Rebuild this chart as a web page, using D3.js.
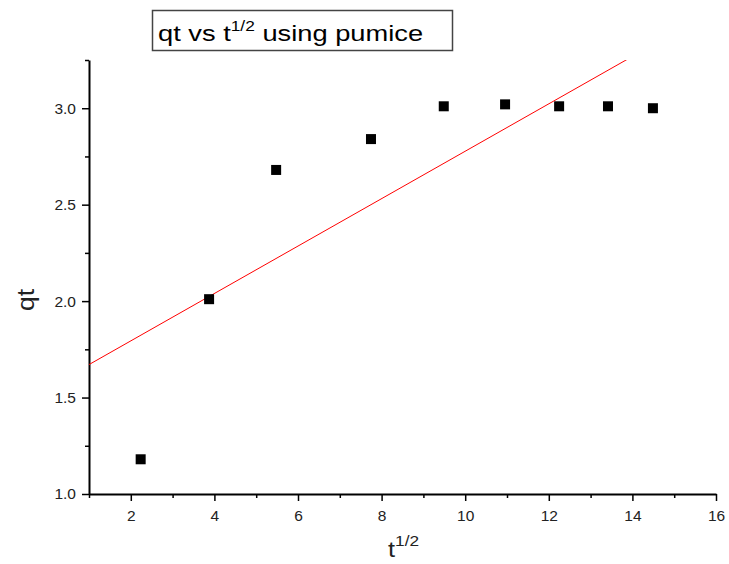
<!DOCTYPE html>
<html lang="en">
<head>
    <meta charset="UTF-8">
    <title>qt vs t^1/2 using pumice</title>
    <script src="https://d3js.org/d3.v7.min.js"></script>
    <style>
        body {
            margin: 0;
            background: #ffffff;
            font-family: 'Liberation Sans', Arial, sans-serif;
        }
        .tick text {
            font-family: 'Liberation Sans', Arial, sans-serif;
            font-size: 15.5px;
            fill: #222;
        }
    </style>
</head>
<body>
    <div id="chart"></div>
    <script>
        // data
        const tHalf = [2.236, 3.873, 5.477, 7.746, 9.487, 10.954, 12.247, 13.416, 14.491];
        const qt = [1.18, 2.01, 2.68, 2.84, 3.01, 3.02, 3.01, 3.01, 3.00];
        // linear fit (red line)
        const fitIntercept = 1.548;
        const fitSlope = 0.1229;
        const xTicks = [2, 4, 6, 8, 10, 12, 14, 16];
        const yTicks = [1.0, 1.5, 2.0, 2.5, 3.0];
        const xMinor = [1, 3, 5, 7, 9, 11, 13, 15];
        const yMinor = [1.25, 1.75, 2.25, 2.75, 3.25];

        const width = 729;
        const height = 564;
        const margin = {top: 60, right: 13, bottom: 70, left: 89};

        const svg = d3.select("#chart")
            .append("svg")
            .attr("width", width)
            .attr("height", height);

        const x = d3.scaleLinear()
            .domain([1, 16])
            .range([margin.left, width - margin.right]);

        const y = d3.scaleLinear()
            .domain([1.0, 3.25])
            .range([height - margin.bottom, margin.top]);

        svg.append("clipPath")
            .attr("id", "plot-clip")
            .append("rect")
            .attr("x", margin.left)
            .attr("y", margin.top)
            .attr("width", width - margin.left - margin.right)
            .attr("height", height - margin.top - margin.bottom);

        // minor ticks
        svg.append("g")
            .attr("transform", `translate(0,${height - margin.bottom})`)
            .call(d3.axisBottom(x).tickValues(xMinor).tickSize(4).tickFormat(""))
            .call(g => g.select(".domain").remove())
            .selectAll("line").attr("stroke", "#000").attr("stroke-width", 1.5);

        svg.append("g")
            .attr("transform", `translate(${margin.left},0)`)
            .call(d3.axisLeft(y).tickValues(yMinor).tickSize(4).tickFormat(""))
            .call(g => g.select(".domain").remove())
            .selectAll("line").attr("stroke", "#000").attr("stroke-width", 1.5);

        // major axes
        const xAxis = svg.append("g")
            .attr("transform", `translate(0,${height - margin.bottom})`)
            .call(d3.axisBottom(x).tickValues(xTicks).tickSize(7).tickSizeOuter(0).tickPadding(9).tickFormat(d3.format("d")));
        xAxis.select(".domain").attr("stroke", "#000").attr("stroke-width", 2);
        xAxis.selectAll(".tick line").attr("stroke", "#000").attr("stroke-width", 1.5);

        const yAxis = svg.append("g")
            .attr("transform", `translate(${margin.left},0)`)
            .call(d3.axisLeft(y).tickValues(yTicks).tickSize(7).tickSizeOuter(0).tickPadding(6).tickFormat(d3.format(".1f")));
        yAxis.select(".domain").attr("stroke", "#000").attr("stroke-width", 2);
        yAxis.selectAll(".tick line").attr("stroke", "#000").attr("stroke-width", 1.5);

        // fit line
        const fitX = [1, 16];
        svg.append("path")
            .attr("clip-path", "url(#plot-clip)")
            .attr("d", d3.line()
                .x(d => x(d))
                .y(d => y(fitIntercept + fitSlope * d))(fitX))
            .attr("fill", "none")
            .attr("stroke", "#ff0000")
            .attr("stroke-width", 1);

        // points
        const pts = tHalf.map((d, i) => ({x: d, y: qt[i]}));
        const s = 10;
        svg.selectAll(".pt")
            .data(pts)
            .enter()
            .append("rect")
            .attr("class", "pt")
            .attr("x", d => x(d.x) - s / 2)
            .attr("y", d => y(d.y) - s / 2)
            .attr("width", s)
            .attr("height", s)
            .attr("fill", "#000");

        // title box
        svg.append("rect")
            .attr("x", 152.5)
            .attr("y", 10.5)
            .attr("width", 300)
            .attr("height", 40)
            .attr("fill", "#fff")
            .attr("stroke", "#444")
            .attr("stroke-width", 1.5);

        // the reference glyphs are a bit wide, so stretch horizontally
        const title = svg.append("text")
            .attr("transform", "translate(158,41) scale(1.24,1)")
            .attr("font-size", 22)
            .attr("fill", "#000");
        title.append("tspan").text("qt vs t");
        title.append("tspan").attr("dy", -10).attr("font-size", 14).text("1/2");
        title.append("tspan").attr("dy", 10).text(" using pumice");

        // axis labels
        const xLabel = svg.append("text")
            .attr("transform", "translate(388,557) scale(1.15,1)")
            .attr("font-size", 22)
            .attr("fill", "#222");
        xLabel.append("tspan").text("t");
        xLabel.append("tspan").attr("dy", -11).attr("font-size", 15).text("1/2");

        svg.append("text")
            .attr("transform", "translate(34,300) rotate(-90) scale(1.15,1)")
            .attr("text-anchor", "middle")
            .attr("font-size", 23)
            .attr("fill", "#222")
            .text("qt");
    </script>
</body>
</html>
